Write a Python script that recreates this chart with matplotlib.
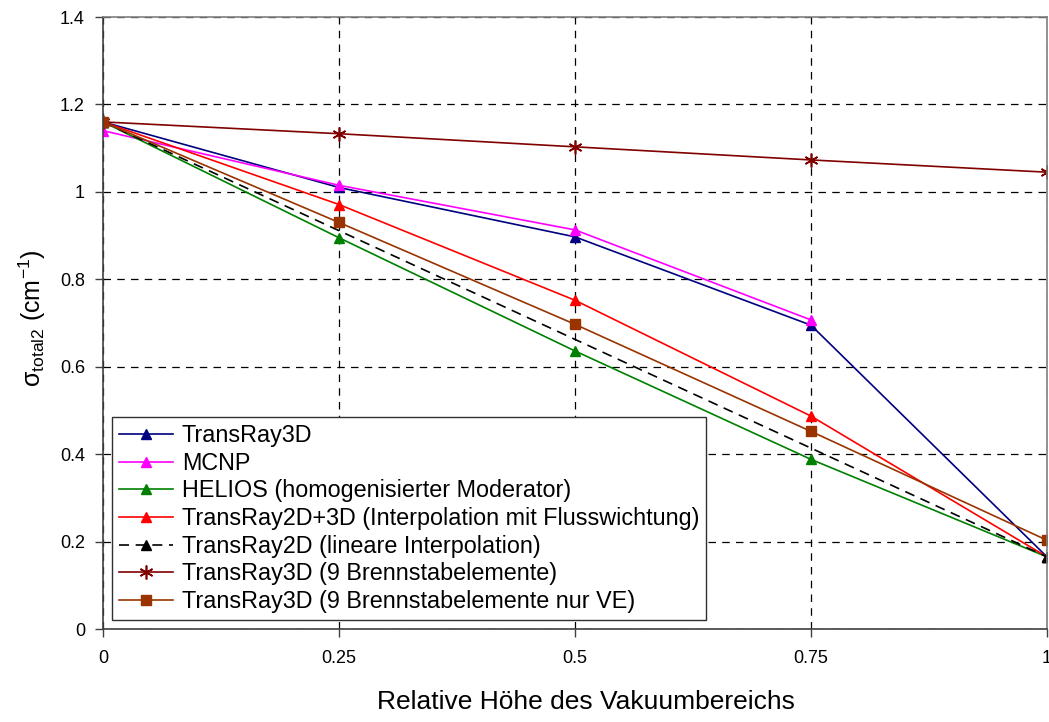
import numpy as np
import matplotlib
matplotlib.use('Agg')
import matplotlib.pyplot as plt

plt.rcParams['font.family'] = ['Liberation Sans', 'DejaVu Sans']
plt.rcParams['mathtext.fontset'] = 'custom'
plt.rcParams['mathtext.rm'] = 'Liberation Sans'
plt.rcParams['mathtext.it'] = 'Liberation Sans'

# relative Höhe des Vakuumbereichs
x = [0, 0.25, 0.5, 0.75, 1]
x_mcnp = [0, 0.25, 0.5, 0.75]
x_lin = [0, 1]

transray3d = [1.16, 1.01, 0.897, 0.695, 0.165]
mcnp = [1.14, 1.015, 0.913, 0.707]
helios = [1.16, 0.895, 0.636, 0.388, 0.165]
tr2d3d = [1.16, 0.971, 0.752, 0.487, 0.165]
tr2d_lin = [1.16, 0.165]
tr3d_9 = [1.16, 1.133, 1.103, 1.073, 1.045]
tr3d_9ve = [1.16, 0.93, 0.697, 0.452, 0.203]

labels = ['TransRay3D', 'MCNP', 'HELIOS (homogenisierter Moderator)',
          'TransRay2D+3D (Interpolation mit Flusswichtung)',
          'TransRay2D (lineare Interpolation)',
          'TransRay3D (9 Brennstabelemente)',
          'TransRay3D (9 Brennstabelemente nur VE)']

fig = plt.figure(figsize=(10.49, 7.22), dpi=100)
ax = fig.add_axes([103/1049, 1-629/722, 944/1049, 612/722])

lw = 1.2
ax.plot(x, transray3d, color='#000080', lw=lw, marker='^', ms=7.5, label=labels[0])
ax.plot(x_mcnp, mcnp, color='#FF00FF', lw=lw, marker='^', ms=7.5, label=labels[1])
ax.plot(x, helios, color='#008000', lw=lw, marker='^', ms=7.5, label=labels[2])
ax.plot(x, tr2d3d, color='#FF0000', lw=lw, marker='^', ms=7.5, label=labels[3])
ax.plot(x_lin, tr2d_lin, color='black', lw=lw, ls=(0, (6, 4)), marker='^', ms=7.5, label=labels[4])
ax.plot(x, tr3d_9, color='#800000', lw=lw, marker=(6, 2, 0), ms=10, mew=1.2, label=labels[5])
ax.plot(x, tr3d_9ve, color='#993300', lw=lw, marker='s', ms=7.5, label=labels[6])

ax.set_xlim(0, 1)
ax.set_ylim(0, 1.4)
ax.set_xticks([0, 0.25, 0.5, 0.75, 1])
ax.set_xticklabels(['0', '0.25', '0.5', '0.75', '1'])
ax.set_yticks(np.arange(0, 1.41, 0.2))
ax.set_yticklabels(['0', '0.2', '0.4', '0.6', '0.8', '1', '1.2', '1.4'])
ax.tick_params(labelsize=13, direction='out', length=6, width=1, colors='#404040', labelcolor='black')
ax.tick_params(axis='x', pad=9)
ax.tick_params(axis='y', pad=7)
ax.grid(True, color='black', ls=(0, (6, 5)), lw=0.9)
ax.set_axisbelow(True)
for s in ax.spines.values():
    s.set_color('#808080')
    s.set_linewidth(1.2)
ax.spines['left'].set_color('#404040')
ax.spines['bottom'].set_color('#404040')

ax.set_xlabel('Relative Höhe des Vakuumbereichs', fontsize=19)
ax.xaxis.set_label_coords((586-103)/944, (629-690)/612)
ax.set_ylabel(r'σ$_{\rm total2}$ (cm$^{-1}$)', fontsize=18)
ax.yaxis.set_label_coords((48-103)/944, (629-318)/612)

leg = ax.legend(loc='lower left', bbox_to_anchor=(0.0095, 0.0147), borderaxespad=0,
                fontsize=16.8, fancybox=False, framealpha=1, edgecolor='#303030',
                handlelength=2.3, labelspacing=0.2, borderpad=0.3, handletextpad=0.4)
leg.get_frame().set_linewidth(1)

plt.savefig('out.png', dpi=100)
